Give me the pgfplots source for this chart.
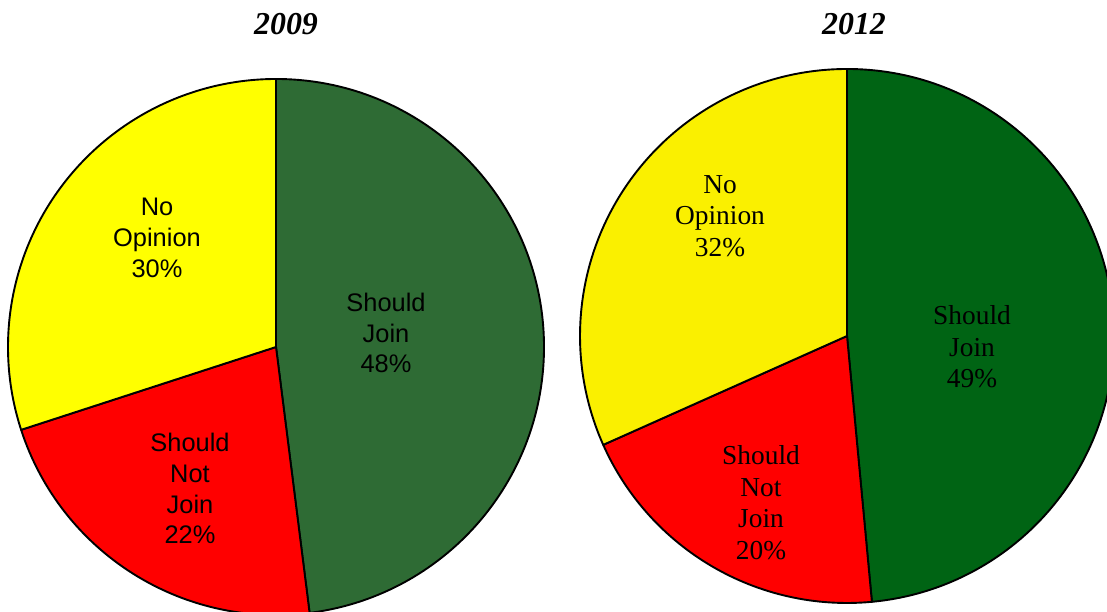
\documentclass[border=0pt]{standalone}
\usepackage{pgfplots}
\pgfplotsset{compat=1.18}
\usepackage{fontspec}
\setmainfont{Liberation Serif}
\newfontfamily\arialf{Liberation Sans}
\newfontfamily\timesf{Liberation Serif}
\definecolor{gL}{RGB}{46,107,52}
\definecolor{gR}{RGB}{0,100,20}
\definecolor{yL}{RGB}{255,255,0}
\definecolor{yR}{RGB}{250,240,0}
\definecolor{rd}{RGB}{255,0,0}
% data (percent)
\def\LJoin{48}\def\LNot{22}\def\LNo{30}
\def\RJoin{49}\def\RNot{20}\def\RNo{32}
\pgfmathsetmacro\LT{\LJoin+\LNot+\LNo}
\pgfmathsetmacro\LA{90}
\pgfmathsetmacro\LB{\LA-\LJoin/\LT*360}
\pgfmathsetmacro\LC{\LB-\LNot/\LT*360}
\pgfmathsetmacro\LD{\LC-\LNo/\LT*360}
\pgfmathsetmacro\RT{\RJoin+\RNot+\RNo}
\pgfmathsetmacro\RA{90}
\pgfmathsetmacro\RB{\RA-\RJoin/\RT*360}
\pgfmathsetmacro\RC{\RB-\RNot/\RT*360}
\pgfmathsetmacro\RD{\RC-\RNo/\RT*360}
\begin{document}
\begin{tikzpicture}[x=1bp,y=1bp]
\useasboundingbox (0,0) rectangle (1107,612);
\clip (0,0) rectangle (1107,612);
% left pie
\begin{axis}[at={(276bp,265bp)}, anchor=center, scale only axis,
  width=536bp, height=536bp, xmin=-1, xmax=1, ymin=-1, ymax=1,
  hide axis, clip=false]
\filldraw[fill=gL, draw=black, line width=1.9bp, line join=round] (axis cs:0,0) -- ++(\LA:268bp) arc[start angle=\LA, end angle=\LB, radius=268bp] -- cycle;
\filldraw[fill=rd, draw=black, line width=1.9bp, line join=round] (axis cs:0,0) -- ++(\LB:268bp) arc[start angle=\LB, end angle=\LC, radius=268bp] -- cycle;
\filldraw[fill=yL, draw=black, line width=1.9bp, line join=round] (axis cs:0,0) -- ++(\LC:268bp) arc[start angle=\LC, end angle=\LD, radius=268bp] -- cycle;
\end{axis}
% right pie
\begin{axis}[at={(847bp,276bp)}, anchor=center, scale only axis,
  width=534bp, height=534bp, xmin=-1, xmax=1, ymin=-1, ymax=1,
  hide axis, clip=false]
\filldraw[fill=gR, draw=black, line width=1.9bp, line join=round] (axis cs:0,0) -- ++(\RA:267bp) arc[start angle=\RA, end angle=\RB, radius=267bp] -- cycle;
\filldraw[fill=rd, draw=black, line width=1.9bp, line join=round] (axis cs:0,0) -- ++(\RB:267bp) arc[start angle=\RB, end angle=\RC, radius=267bp] -- cycle;
\filldraw[fill=yR, draw=black, line width=1.9bp, line join=round] (axis cs:0,0) -- ++(\RC:267bp) arc[start angle=\RC, end angle=\RD, radius=267bp] -- cycle;
\end{axis}
% titles
\node[font=\timesf\bfseries\itshape\fontsize{32}{36}\selectfont] at (286,588) {2009};
\node[font=\timesf\bfseries\itshape\fontsize{32}{36}\selectfont] at (854,588) {2012};
% left labels
\node[align=center, font=\arialf\fontsize{25.5}{31}\selectfont] at (157,374) {No\\Opinion\\30\%};
\node[align=center, font=\arialf\fontsize{25.5}{31}\selectfont] at (386,279) {Should\\Join\\48\%};
\node[align=center, font=\arialf\fontsize{25.5}{31}\selectfont] at (190,123.5) {Should\\Not\\Join\\22\%};
% right labels
\node[align=center, font=\timesf\fontsize{27.5}{31.7}\selectfont] at (720,396) {No\\Opinion\\32\%};
\node[align=center, font=\timesf\fontsize{27.5}{31.7}\selectfont] at (972,265) {Should\\Join\\49\%};
\node[align=center, font=\timesf\fontsize{27.5}{31.7}\selectfont] at (761,109.5) {Should\\Not\\Join\\20\%};
\end{tikzpicture}
\end{document}
